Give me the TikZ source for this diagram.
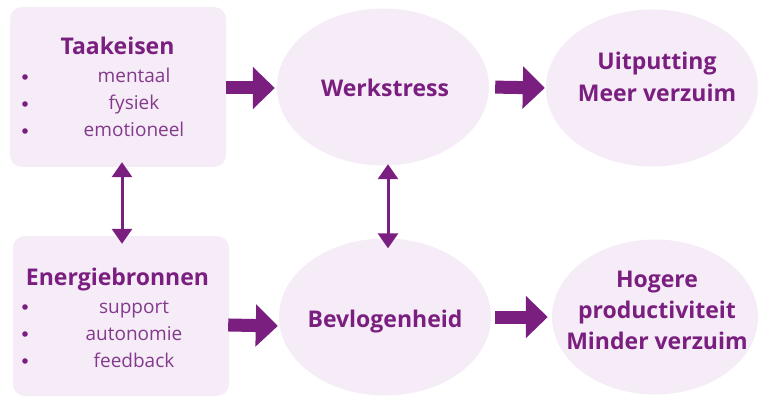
\documentclass[tikz,border=0pt]{standalone}
\usepackage{fontspec}
\setmainfont{Open Sans}
\usepackage{tikz}
\usetikzlibrary{arrows.meta,calc,positioning,shapes.geometric}
\definecolor{jdrpurple}{RGB}{122,30,128}
\definecolor{jdritem}{RGB}{132,58,140}
\definecolor{jdrfill}{RGB}{245,236,247}

\begin{document}
\begin{tikzpicture}[x=1pt,y=-1pt,line join=round,
 box/.style={rectangle,rounded corners=12pt,fill=jdrfill,minimum width=216pt,minimum height=160pt,inner sep=0pt},
 blob/.style={ellipse,fill=jdrfill,minimum width=212pt,minimum height=157pt,inner sep=0pt},
 head/.style={font=\fontsize{23}{32}\selectfont\bfseries,text=jdrpurple,inner sep=0pt,anchor=base},
 item/.style={font=\fontsize{19}{27}\selectfont,text=jdritem,inner sep=0pt,anchor=base},
 bigarrow/.style={jdrpurple,line width=13pt,line cap=butt,-{Triangle[width=41pt,length=22pt]}},
 twoway/.style={jdrpurple,line width=3pt,{Triangle[width=20pt,length=15pt]}-{Triangle[width=20pt,length=15pt]}}]
\fill[white] (0,0) rectangle (758,401);
\useasboundingbox (0,0) rectangle (758,401);
% vlakken: links de twee kaders, midden en rechts de ellipsen
\node[box] (taak) at (118,87) {};
\node[box] (energie) at (121,316) {};
\node[blob] (werk) at (383,87) {};
\node[blob] (bevl) at (385,317) {};
\node[blob] (uit) at (652,88) {};
\node[blob,minimum width=206pt,minimum height=155pt] (hog) at (655,317) {};
% koppen en opsommingen
\node[head] (taakkop) at (117.5,55) {Taakeisen};
\node[head] (energiekop) at (117.5,285) {Energiebronnen};
\foreach \txt [count=\i] in {mentaal,fysiek,emotioneel}{
 \fill[jdrpurple] (25,{50+27*\i}) circle (2.8pt);
 \node[item] (taak\i) at (134,{56+27*\i}) {\txt};}
\foreach \txt [count=\i] in {support,autonomie,feedback}{
 \fill[jdrpurple] (25,{280+27*\i}) circle (2.8pt);
 \node[item] (energie\i) at (134,{286+27*\i}) {\txt};}
\node[head] (werkstress) at (385,97) {Werkstress};
\node[head] (bevlogen) at (385,327) {Bevlogenheid};
\foreach \txt [count=\i] in {Uitputting,Meer verzuim}
 \node[head] (uit\i) at (657,{38+32*\i}) {\txt};
\foreach \txt [count=\i] in {Hogere,productiviteit,Minder verzuim}
 \node[head] (hog\i) at (657,{256+31*\i}) {\txt};
% pijlen
\draw[bigarrow,shorten >=2pt] ([yshift=-1pt]taak.east) -- ([yshift=-1pt]werk.west);
\draw[bigarrow,shorten <=6pt,shorten >=1pt] (werk.east) -- (uit.west);
\draw[bigarrow,shorten <=-1pt,shorten >=1pt] ([yshift=-9pt]energie.east) -- ([yshift=-9pt]bevl.west);
\draw[bigarrow,shorten <=4pt,shorten >=4pt] (bevl.east) -- (hog.west);
\draw[twoway] ([xshift=4pt,yshift=5pt]taak.south) -- ([xshift=1pt,yshift=-8pt]energie.north);
\draw[twoway] ([xshift=5pt,yshift=1.5pt]werk.south) -- ([xshift=3pt,yshift=-10pt]bevl.north);
\end{tikzpicture}
\end{document}
